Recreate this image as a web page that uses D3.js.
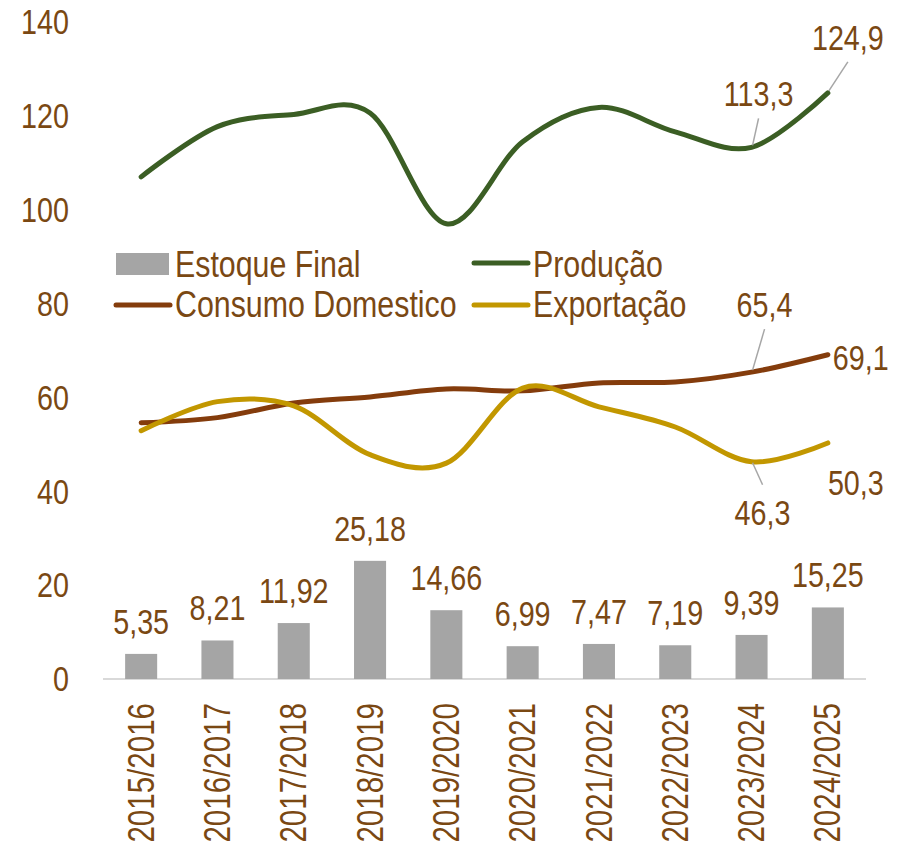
<!DOCTYPE html>
<html>
<head>
<meta charset="utf-8">
<script src="https://cdn.jsdelivr.net/npm/d3@7"></script>
<style>
  body { margin: 0; background: #fff; }
  text { font-family: 'Liberation Sans', Arial, sans-serif; fill: #7a4813; }
</style>
</head>
<body>
<div id="chart"></div>
<script>
const safras = ["2015/2016", "2016/2017", "2017/2018", "2018/2019", "2019/2020",
  "2020/2021", "2021/2022", "2022/2023", "2023/2024", "2024/2025"];
const estoqueFinal = [5.35, 8.21, 11.92, 25.18, 14.66, 6.99, 7.47, 7.19, 9.39, 15.25];
const producao = [107.0, 117.7, 120.3, 120.6, 97.0, 114.5, 121.8, 116.6, 113.3, 124.9];
const consumo = [54.6, 55.7, 58.8, 60.1, 61.8, 61.4, 63.1, 63.3, 65.4, 69.1];
const exportacao = [52.9, 59.1, 58.2, 47.8, 46.0, 62.0, 58.0, 53.7, 46.3, 50.3];
const yTicks = [0, 20, 40, 60, 80, 100, 120, 140];

(function() {
  const width = 907, height = 849;
  const fmt = v => String(v).replace(".", ",");

  const svg = d3.select("#chart").append("svg")
    .attr("width", width)
    .attr("height", height);

  const x = d3.scaleBand().domain(safras).range([103, 866]);
  const y = d3.scaleLinear().domain([0, 140]).range([679, 22]);
  const cx = d => x(d) + x.bandwidth() / 2;

  // eixo y (só rótulos)
  svg.append("g").selectAll("text")
    .data(yTicks)
    .enter().append("text")
      .attr("x", 69)
      .attr("y", d => y(d))
      .attr("dy", "0.35em")
      .attr("text-anchor", "end")
      .style("font-size", "35px")
      .text(d => d);

  // linha de base
  svg.append("line")
    .attr("x1", 103).attr("x2", 866)
    .attr("y1", y(0)).attr("y2", y(0))
    .attr("stroke", "#d9d9d9")
    .attr("stroke-width", 2);

  // rótulos x
  svg.append("g").selectAll("text")
    .data(safras)
    .enter().append("text")
      .attr("transform", d => `translate(${cx(d)}, 703) rotate(-90)`)
      .attr("dy", "0.35em")
      .attr("text-anchor", "end")
      .style("font-size", "36px")
      .text(d => d);

  // barras
  const barW = x.bandwidth() * 0.42;
  svg.append("g").selectAll("rect")
    .data(estoqueFinal)
    .enter().append("rect")
      .attr("x", (d, i) => cx(safras[i]) - barW / 2)
      .attr("y", d => y(d))
      .attr("width", barW)
      .attr("height", d => y(0) - y(d))
      .attr("fill", "#a5a5a5");

  svg.append("g").selectAll("text")
    .data(estoqueFinal)
    .enter().append("text")
      .attr("x", (d, i) => cx(safras[i]))
      .attr("y", d => y(d) - 20)
      .attr("text-anchor", "middle")
      .style("font-size", "35px")
      .text(d => fmt(d.toFixed(2)));

  // linhas
  const line = d3.line()
    .x((d, i) => cx(safras[i]))
    .y(d => y(d))
    .curve(d3.curveCardinal);

  const series = [
    { values: producao, color: "#3b5e24" },
    { values: consumo, color: "#843c0c" },
    { values: exportacao, color: "#c29700" }
  ];

  svg.append("g").selectAll("path")
    .data(series)
    .enter().append("path")
      .attr("d", d => line(d.values))
      .attr("fill", "none")
      .attr("stroke", d => d.color)
      .attr("stroke-width", 5)
      .attr("stroke-linecap", "round");

  // rótulos das linhas: [série, índice, dx, dy (linha base), âncora, guia]
  const labels = [
    [producao, 9, 20, -43, "middle", true],
    [producao, 8, 7, -41, "middle", true],
    [consumo, 8, 13, -55, "middle", true],
    [consumo, 9, 5, 15, "start", false],
    [exportacao, 8, 11, 63, "middle", true],
    [exportacao, 9, 28, 52, "middle", false]
  ];

  labels.forEach(([s, i, dx, dy, anchor, guide]) => {
    const px = cx(safras[i]), py = y(s[i]);
    if (guide) {
      const gy = dy < 0 ? py + dy + 12 : py + dy - 40;
      svg.append("line")
        .attr("x1", px + 1).attr("y1", py + (dy < 0 ? -2 : 1))
        .attr("x2", px + dx).attr("y2", gy)
        .attr("stroke", "#a6a6a6")
        .attr("stroke-width", 1.5);
    }
    svg.append("text")
      .attr("x", px + dx)
      .attr("y", py + dy)
      .attr("text-anchor", anchor)
      .style("font-size", "35px")
      .text(fmt(s[i].toFixed(1)));
  });

  // legenda
  const legend = svg.append("g");
  legend.append("rect")
    .attr("x", 116).attr("y", 253)
    .attr("width", 53).attr("height", 22)
    .attr("fill", "#a5a5a5");

  const legItems = [
    { label: "Estoque Final", x: 175, y: 277 },
    { label: "Produção", x: 533, y: 277, color: "#3b5e24", ly: 263 },
    { label: "Consumo Domestico", x: 175, y: 317, color: "#843c0c", ly: 305 },
    { label: "Exportação", x: 533, y: 317, color: "#c29700", ly: 305 }
  ];

  legItems.forEach(d => {
    if (d.color) {
      legend.append("line")
        .attr("x1", d.x - 59).attr("x2", d.x - 5)
        .attr("y1", d.ly).attr("y2", d.ly)
        .attr("stroke", d.color)
        .attr("stroke-width", 5)
        .attr("stroke-linecap", "round");
    }
    legend.append("text")
      .attr("x", d.x)
      .attr("y", d.y)
      .style("font-size", "37px")
      .text(d.label);
  });

  // não há Arial Narrow: comprime o texto na horizontal
  svg.selectAll("text").each(function() {
    const len = this.getComputedTextLength();
    d3.select(this)
      .attr("textLength", len * 0.82)
      .attr("lengthAdjust", "spacingAndGlyphs");
  });
})();
</script>
</body>
</html>
